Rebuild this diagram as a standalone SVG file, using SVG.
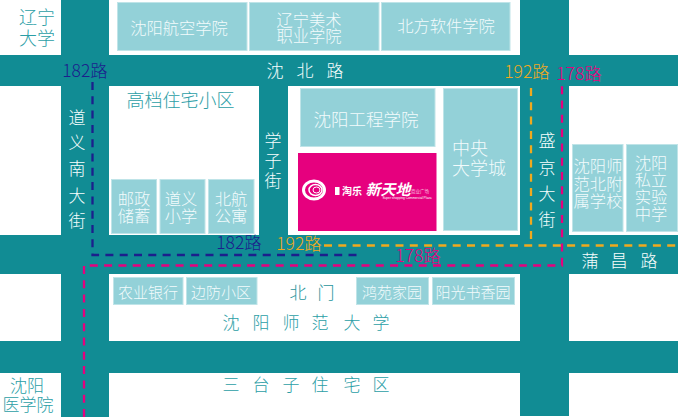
<svg xmlns="http://www.w3.org/2000/svg" width="678" height="417" viewBox="0 0 678 417">
<style>
text{font-family:"Noto Sans CJK SC","Noto Sans",sans-serif;font-weight:300;text-anchor:middle}
.road{fill:#118c94}
.b{fill:#93d1d8;stroke:#bfe4e8;stroke-width:1}
.w{fill:#f6fdfd;font-size:17px}
.s{fill:#f2fbfc;font-size:16.300px}
.m{fill:#f2fbfc;font-size:15px}
.t{fill:#2b9ea6;font-size:17px}
.n{fill:#1c1f8c;font-size:17.500px}
.o{fill:#f0a91e;font-size:17.500px}
.p{fill:#e6007e;font-size:17.500px}
.d{fill:none;stroke-width:2.300;stroke-dasharray:8 6.300}
</style>
<rect width="678" height="417" fill="#fff"/>
<g id="roads">
<rect class="road" x="0" y="55" width="678" height="31"/>
<rect class="road" x="0" y="235" width="678" height="39"/>
<rect class="road" x="0" y="341" width="678" height="32"/>
<rect class="road" x="61" y="0" width="48" height="417"/>
<rect class="road" x="259" y="86" width="29" height="150"/>
<rect class="road" x="520" y="0" width="49" height="416"/>
</g>
<g id="blocks">
<g id="b1"><rect class="b" x="117.500" y="2.500" width="129.500" height="48"/><text class="s" x="179" y="34">沈阳航空学院</text></g>
<g id="b2"><rect class="b" x="249.500" y="2.500" width="129.500" height="48"/><text class="s" x="309" y="26"><tspan x="309" y="26">辽宁美术</tspan><tspan x="309" y="42">职业学院</tspan></text></g>
<g id="b3"><rect class="b" x="381.500" y="2.500" width="128.500" height="48"/><text class="s" x="446" y="32">北方软件学院</text></g>
<g id="b4"><rect class="b" x="300.500" y="88.500" width="134.500" height="58"/><text class="s" x="366" y="126" style="font-size:17.500px">沈阳工程学院</text></g>
<g id="b5"><rect class="b" x="443.500" y="88.500" width="74" height="142"/><text class="s" style="font-size:18px"><tspan x="470" y="155">中央</tspan><tspan x="479" y="175">大学城</tspan></text></g>
<g id="b6"><rect class="b" x="111.500" y="179.500" width="45" height="54"/><text class="s"><tspan x="134" y="205">邮政</tspan><tspan x="134" y="222">储蓄</tspan></text></g>
<g id="b7"><rect class="b" x="160" y="179.500" width="45" height="54"/><text class="s"><tspan x="181" y="205">道义</tspan><tspan x="181" y="222">小学</tspan></text></g>
<g id="b8"><rect class="b" x="208.500" y="179.500" width="45.500" height="54"/><text class="s"><tspan x="231" y="205">北航</tspan><tspan x="231" y="222">公寓</tspan></text></g>
<g id="b9"><rect class="b" x="572.500" y="144.500" width="50.500" height="87"/><text class="s"><tspan x="598" y="172">沈阳师</tspan><tspan x="598" y="190">范北附</tspan><tspan x="598" y="207">属学校</tspan></text></g>
<g id="b10"><rect class="b" x="626.500" y="144.500" width="51" height="87"/><text class="s"><tspan x="651" y="169">沈阳</tspan><tspan x="651" y="186">私立</tspan><tspan x="651" y="203">实验</tspan><tspan x="651" y="220">中学</tspan></text></g>
<g id="b11"><rect class="b" x="113.500" y="277.500" width="69.500" height="27"/><text class="m" x="148" y="298">农业银行</text></g>
<g id="b12"><rect class="b" x="186.500" y="277.500" width="70.500" height="27"/><text class="m" x="221" y="298">边防小区</text></g>
<g id="b13"><rect class="b" x="356.500" y="277.500" width="72" height="27"/><text class="m" x="392" y="298">鸿苑家园</text></g>
<g id="b14"><rect class="b" x="432.500" y="277.500" width="82" height="27"/><text class="m" x="473" y="298">阳光书香园</text></g>
</g>
<g id="logo">
<rect x="298" y="153" width="138.500" height="78" fill="#e6007e"/>
<g fill="none" stroke="#fff">
<ellipse cx="314" cy="190" rx="10.500" ry="9" stroke-width="3"/>
<ellipse cx="315.500" cy="190" rx="6.500" ry="5.500" stroke-width="1.500"/>
<ellipse cx="316.500" cy="190" rx="3.500" ry="3" stroke-width="1"/>
</g>
<rect x="335" y="187" width="4.500" height="8" fill="#fff"/>
<text x="352" y="195" fill="#fff" style="font-size:10px;font-weight:700">淘乐</text>
<text x="388" y="195" fill="#fff" style="font-size:15px;font-weight:700;font-style:italic">新天地</text>
<text x="420" y="193" fill="#fff" style="font-size:4.500px">商业广场</text>
<text x="407" y="198.500" fill="#fff" style="font-size:3.200px;font-family:'Liberation Sans',sans-serif">Super shopping Commercial Plaza</text>
</g>
<g id="labels">
<text class="t" style="font-size:18px"><tspan x="37" y="24">辽宁</tspan><tspan x="37" y="45">大学</tspan></text>
<text class="t" x="180.500" y="107" style="font-size:18px">高档住宅小区</text>
<text class="t"><tspan x="27" y="392">沈阳</tspan><tspan x="28" y="411">医学院</tspan></text>
<text class="w" y="77"><tspan x="275">沈</tspan><tspan x="305">北</tspan><tspan x="335">路</tspan></text>
<text class="w"><tspan x="77" y="124">道</tspan><tspan x="77" y="149">义</tspan><tspan x="77" y="175">南</tspan><tspan x="77" y="202">大</tspan><tspan x="77" y="227">街</tspan></text>
<text class="w"><tspan x="273" y="147">学</tspan><tspan x="273" y="167">子</tspan><tspan x="273" y="187">街</tspan></text>
<text class="w"><tspan x="547" y="147">盛</tspan><tspan x="547" y="174">京</tspan><tspan x="547" y="200">大</tspan><tspan x="547" y="226">街</tspan></text>
<text class="w" y="267"><tspan x="590">蒲</tspan><tspan x="619">昌</tspan><tspan x="649">路</tspan></text>
<text class="t" y="299" style="fill:#1f949c"><tspan x="298">北</tspan><tspan x="326">门</tspan></text>
<text class="t" y="329"><tspan x="231">沈</tspan><tspan x="261">阳</tspan><tspan x="291">师</tspan><tspan x="320">范</tspan><tspan x="352">大</tspan><tspan x="381">学</tspan></text>
<text class="t" y="391"><tspan x="231">三</tspan><tspan x="261">台</tspan><tspan x="291">子</tspan><tspan x="320">住</tspan><tspan x="352">宅</tspan><tspan x="381">区</tspan></text>
</g>
<g id="connectors">
<path class="d" stroke="#1c1f8c" d="M92.500 82V255H362"/>
<path class="d" stroke="#e6007e" d="M84 417V265.500H562V84"/>
<path class="d" stroke="#f0a91e" d="M531 88V241"/>
<path class="d" stroke="#f0a91e" d="M324 245.500H676"/>
</g>
<g id="route-labels">
<text class="n" x="85" y="77">182路</text>
<text class="n" x="239" y="249">182路</text>
<text class="o" x="527" y="78">192路</text>
<text class="o" x="299" y="250">192路</text>
<text class="p" x="579" y="80">178路</text>
<text class="p" x="418" y="262">178路</text>
</g>
</svg>
